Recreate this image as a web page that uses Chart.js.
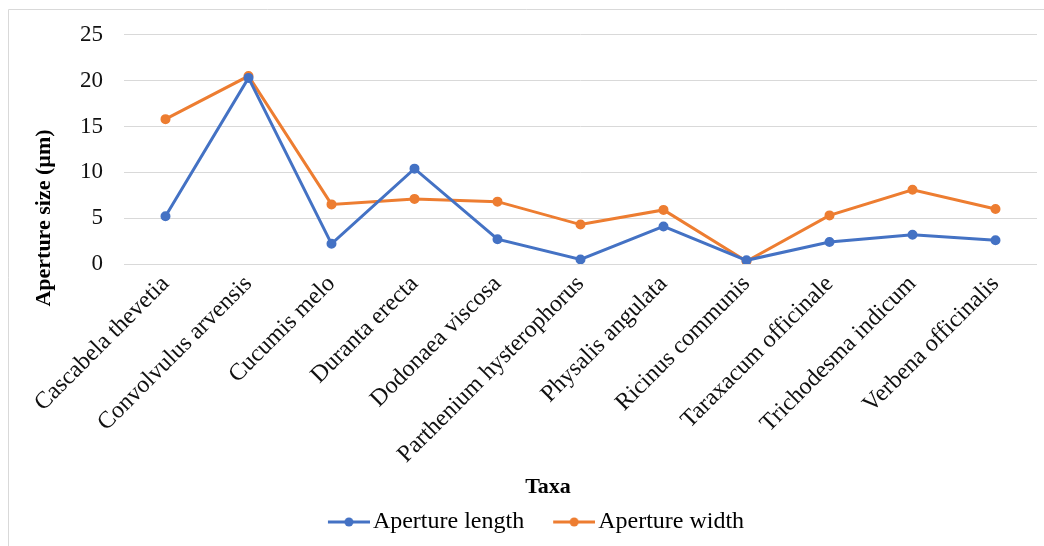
<!DOCTYPE html>
<html>
<head>
<meta charset="utf-8">
<script src="https://cdn.jsdelivr.net/npm/chart.js@4.4.1/dist/chart.umd.min.js"></script>
<style>
  html, body { margin: 0; padding: 0; background: #fff; overflow: hidden; }
  canvas { display: block; }
</style>
</head>
<body>
<canvas id="c" width="1044" height="546"></canvas>
<script>
const taxa = [
  "Cascabela thevetia", "Convolvulus arvensis", "Cucumis melo", "Duranta erecta",
  "Dodonaea viscosa", "Parthenium hysterophorus", "Physalis angulata",
  "Ricinus communis", "Taraxacum officinale", "Trichodesma indicum", "Verbena officinalis"
];
const apertureLength = [5.2, 20.3, 2.2, 10.4, 2.7, 0.5, 4.1, 0.4, 2.4, 3.2, 2.6];
const apertureWidth  = [15.8, 20.5, 6.5, 7.1, 6.8, 4.3, 5.9, 0.3, 5.3, 8.1, 6.0];
const yTicks = [0, 5, 10, 15, 20, 25];
const seriesNames = ["Aperture length", "Aperture width"];
const yAxisTitle = "Aperture size (µm)";
const xAxisTitle = "Taxa";

const BLUE = "#4472C4";
const ORANGE = "#ED7D31";
const FONT = "'Liberation Serif', 'Times New Roman', serif";

function legendMarker(color) {
  const w = 70, h = 12;
  const c = document.createElement("canvas");
  c.width = w; c.height = h;
  const g = c.getContext("2d");
  g.strokeStyle = color; g.lineWidth = 3;
  g.beginPath(); g.moveTo(w - 42, h / 2); g.lineTo(w, h / 2); g.stroke();
  g.fillStyle = color;
  g.beginPath(); g.arc(w - 21, h / 2, 4.5, 0, Math.PI * 2); g.fill();
  return c;
}
const markers = [legendMarker(BLUE), legendMarker(ORANGE)];

const frameAndTitles = {
  id: "frameAndTitles",
  beforeDraw(chart) {
    const ctx = chart.ctx;
    ctx.save();
    ctx.strokeStyle = "#d9d9d9";
    ctx.lineWidth = 1;
    ctx.beginPath();
    ctx.moveTo(8.5, 546); ctx.lineTo(8.5, 9.5); ctx.lineTo(1044, 9.5);
    ctx.stroke();
    ctx.restore();
  },
  afterDraw(chart) {
    const ctx = chart.ctx;
    ctx.save();
    ctx.fillStyle = "#000";
    ctx.font = "bold 22px " + FONT;
    ctx.textAlign = "center";
    ctx.textBaseline = "middle";
    ctx.save();
    ctx.translate(44, 218);
    ctx.rotate(-Math.PI / 2);
    ctx.fillText(yAxisTitle, 0, 0);
    ctx.restore();
    ctx.fillText(xAxisTitle, 548, 487);
    ctx.restore();
  }
};

new Chart(document.getElementById("c"), {
  type: "line",
  data: {
    labels: taxa,
    datasets: [
      { label: seriesNames[0], data: apertureLength, borderColor: BLUE, backgroundColor: BLUE,
        borderWidth: 3, pointRadius: 4, pointBorderWidth: 2, pointBackgroundColor: BLUE, pointBorderColor: BLUE, tension: 0 },
      { label: seriesNames[1], data: apertureWidth, borderColor: ORANGE, backgroundColor: ORANGE,
        borderWidth: 3, pointRadius: 4, pointBorderWidth: 2, pointBackgroundColor: ORANGE, pointBorderColor: ORANGE, tension: 0 }
    ]
  },
  options: {
    responsive: false,
    animation: false,
    layout: { padding: { left: 16, right: 7, top: 32, bottom: 2 } },
    scales: {
      x: {
        offset: true,
        grid: { display: false, drawTicks: false },
        border: { display: false },
        ticks: { color: "#111", font: { family: FONT, size: 24 }, minRotation: 45, maxRotation: 45, padding: 6, autoSkip: false },
        afterFit(s) { s.height = 236; }
      },
      y: {
        min: 0, max: 25,
        afterBuildTicks(s) { s.ticks = yTicks.map(v => ({ value: v })); },
        grid: { color: "#d9d9d9", lineWidth: 1, drawTicks: false },
        border: { display: false },
        ticks: { color: "#111", font: { family: FONT, size: 23 }, padding: 21 },
        afterFit(s) { s.width = 108; }
      }
    },
    plugins: {
      legend: {
        position: "bottom",
        labels: {
          usePointStyle: true,
          pointStyleWidth: 52,
          padding: 10,
          color: "#000",
          font: { family: FONT, size: 24 },
          generateLabels(chart) {
            const items = Chart.defaults.plugins.legend.labels.generateLabels(chart);
            items.forEach((it, i) => { it.pointStyle = markers[i]; });
            return items;
          }
        }
      },
      tooltip: { enabled: false }
    }
  },
  plugins: [frameAndTitles]
});
</script>
</body>
</html>
